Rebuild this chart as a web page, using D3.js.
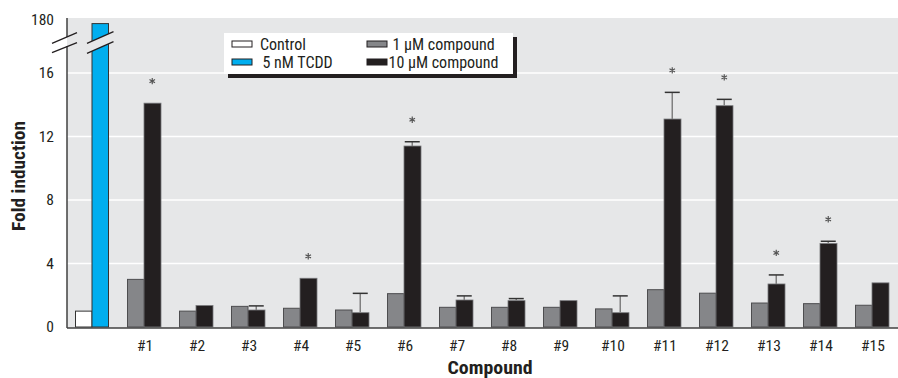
<!DOCTYPE html>
<html>
<head>
<meta charset="utf-8">
<script src="https://cdn.jsdelivr.net/npm/d3@7"></script>
<style>
  body { margin: 0; background: #fff; }
  text { font-family: "Liberation Sans Narrow", "Arial Narrow", "Roboto Condensed", sans-serif; }
</style>
</head>
<body>
<div id="chart"></div>
<script>
// data
var groups = ["", "#1", "#2", "#3", "#4", "#5", "#6", "#7", "#8", "#9", "#10", "#11", "#12", "#13", "#14", "#15"];
var controlValue = 1.0;
var tcddValue = 178;
var lowDose  = [3.0, 1.0, 1.3, 1.18, 1.07, 2.1, 1.24, 1.24, 1.24, 1.14, 2.35, 2.13, 1.51, 1.47, 1.37];
var highDose = [14.1, 1.35, 1.07, 3.07, 0.9, 11.4, 1.7, 1.66, 1.66, 0.9, 13.1, 13.94, 2.71, 5.26, 2.78];
var highErr  = [0, 0, 0.26, 0, 1.22, 0.27, 0.26, 0.13, 0, 1.06, 1.68, 0.4, 0.57, 0.14, 0];
var signif   = [true, false, false, true, false, true, false, false, false, false, true, true, true, true, false];
var yTicks = [0, 4, 8, 12, 16, 180];
var legendItems = [
  {label: "Control", color: "#ffffff"},
  {label: "5 nM TCDD", color: "#00aeef"},
  {label: "1 \u00b5M compound", color: "#858689"},
  {label: "10 \u00b5M compound", color: "#231f20"}
];

var W = 898, H = 378;
var svg = d3.select("#chart")
  .append("svg")
    .attr("width", W)
    .attr("height", H);

var plotL = 67, plotR = 898, plotT = 18, plotB = 328;
var bg = "#e6e7e8";

// x: one band per group
var x = d3.scaleBand()
  .domain(groups)
  .range([66, 898])
  .padding(0);
var barW = 16.5;

// y: broken scale, 16 -> 170 squeezed into the break
var y = d3.scaleLinear()
  .domain([0, 16, 170, 180])
  .range([327, 73, 38, 20]);

// plot background
svg.append("rect")
  .attr("x", plotL).attr("y", plotT)
  .attr("width", plotR - plotL).attr("height", plotB - plotT)
  .attr("fill", bg);

// gridlines
svg.selectAll(".grid")
  .data([4, 8, 12, 16])
  .enter().append("line")
    .attr("x1", plotL).attr("x2", plotR)
    .attr("y1", function(d) { return y(d); })
    .attr("y2", function(d) { return y(d); })
    .attr("stroke", "#ffffff")
    .attr("stroke-width", 1.5);

// Y axis ticks
var yAxis = svg.append("g")
  .attr("transform", "translate(" + plotL + ",0)")
  .call(d3.axisLeft(y).tickValues(yTicks).tickSize(0).tickPadding(13).tickFormat(d3.format("d")));
yAxis.select(".domain").remove();
yAxis.selectAll("text")
  .style("font-size", "15.5px")
  .attr("fill", "#231f20");

// X axis labels
var xAxis = svg.append("g")
  .attr("transform", "translate(1," + plotB + ")")
  .call(d3.axisBottom(x).tickSize(0).tickPadding(12));
xAxis.select(".domain").remove();
xAxis.selectAll("text")
  .style("font-size", "15.5px")
  .attr("fill", "#231f20");

// control + TCDD
var c0 = x("") + x.bandwidth() / 2;
svg.append("rect")
  .attr("x", c0 - barW).attr("y", y(controlValue))
  .attr("width", barW).attr("height", y(0) - y(controlValue))
  .attr("fill", "#ffffff").attr("stroke", "#333").attr("stroke-width", 1);
svg.append("rect")
  .attr("x", c0).attr("y", y(tcddValue))
  .attr("width", barW).attr("height", y(0) - y(tcddValue))
  .attr("fill", "#00aeef").attr("stroke", "#333").attr("stroke-width", 1);

// compound bars
var comp = groups.slice(1).map(function(g, i) {
  return {g: g, low: lowDose[i], high: highDose[i], err: highErr[i], sig: signif[i]};
});

svg.selectAll(".low")
  .data(comp)
  .enter().append("rect")
    .attr("x", function(d) { return x(d.g) + x.bandwidth() / 2 - barW; })
    .attr("y", function(d) { return y(d.low); })
    .attr("width", barW)
    .attr("height", function(d) { return y(0) - y(d.low); })
    .attr("fill", "#858689")
    .attr("stroke", "#4d4d4f").attr("stroke-width", 1);

svg.selectAll(".high")
  .data(comp)
  .enter().append("rect")
    .attr("x", function(d) { return x(d.g) + x.bandwidth() / 2; })
    .attr("y", function(d) { return y(d.high); })
    .attr("width", barW + 0.5)
    .attr("height", function(d) { return y(0) - y(d.high); })
    .attr("fill", "#231f20")
    .attr("stroke", "#77787b").attr("stroke-width", 0.8);

// error bars
var withErr = comp.filter(function(d) { return d.err > 0; });
svg.selectAll(".errv")
  .data(withErr)
  .enter().append("line")
    .attr("x1", function(d) { return x(d.g) + x.bandwidth() / 2 + barW / 2; })
    .attr("x2", function(d) { return x(d.g) + x.bandwidth() / 2 + barW / 2; })
    .attr("y1", function(d) { return y(d.high); })
    .attr("y2", function(d) { return y(d.high + d.err); })
    .attr("stroke", "#808080").attr("stroke-width", 1.5);
svg.selectAll(".errc")
  .data(withErr)
  .enter().append("line")
    .attr("x1", function(d) { return x(d.g) + x.bandwidth() / 2 + barW / 2 - 7.5; })
    .attr("x2", function(d) { return x(d.g) + x.bandwidth() / 2 + barW / 2 + 7.5; })
    .attr("y1", function(d) { return y(d.high + d.err); })
    .attr("y2", function(d) { return y(d.high + d.err); })
    .attr("stroke", "#333").attr("stroke-width", 1.5);

// significance stars
svg.selectAll(".star")
  .data(comp.filter(function(d) { return d.sig; }))
  .enter().append("path")
    .attr("d", d3.symbol(d3.symbolAsterisk).size(28))
    .attr("transform", function(d) {
      return "translate(" + (x(d.g) + x.bandwidth() / 2 + barW / 2) + "," + (y(d.high + d.err) - 22) + ")";
    })
    .attr("stroke", "#555").attr("stroke-width", 1.2).attr("fill", "none");

// axis lines (left axis broken)
svg.append("line")
  .attr("x1", plotL).attr("x2", plotL).attr("y1", plotT).attr("y2", 37)
  .attr("stroke", "#404041").attr("stroke-width", 1.5);
svg.append("line")
  .attr("x1", plotL).attr("x2", plotL).attr("y1", 46).attr("y2", plotB)
  .attr("stroke", "#404041").attr("stroke-width", 1.5);
svg.append("line")
  .attr("x1", plotL).attr("x2", plotR).attr("y1", plotB).attr("y2", plotB)
  .attr("stroke", "#404041").attr("stroke-width", 1.5);

// break on the TCDD bar: gap then slashes
var bx0 = c0 - 5, bx1 = c0 + barW + 5;
var slope = (31.7 - 43.3) / (bx1 - bx0);
function sy(y0, xx) { return y0 + slope * (xx - bx0); }
svg.append("polygon")
  .attr("points", [
    [c0 - 1, sy(43.3, c0 - 1)], [c0 + barW + 1, sy(43.3, c0 + barW + 1)],
    [c0 + barW + 1, sy(53.3, c0 + barW + 1)], [c0 - 1, sy(53.3, c0 - 1)]
  ].join(" "))
  .attr("fill", bg);
[43.3, 53.3].forEach(function(s) {
  svg.append("line")
    .attr("x1", bx0).attr("y1", s).attr("x2", bx1).attr("y2", sy(s, bx1))
    .attr("stroke", "#231f20").attr("stroke-width", 1.3);
});
// break marks on the axis
[[43.3, 32.7], [52.7, 42.7]].forEach(function(s) {
  svg.append("line")
    .attr("x1", 52).attr("y1", s[0]).attr("x2", 77).attr("y2", s[1])
    .attr("stroke", "#231f20").attr("stroke-width", 1.3);
});

// legend
var lg = svg.append("g").attr("transform", "translate(224,33)");
lg.append("rect").attr("x", 4).attr("y", 4).attr("width", 289).attr("height", 41).attr("fill", "#231f20");
lg.append("rect").attr("x", 0).attr("y", 0).attr("width", 289).attr("height", 41).attr("fill", "#ffffff");
var lpos = [[8, 8, 36], [8, 26, 38.5], [143, 8, 168.5], [143, 26, 164.5]];
legendItems.forEach(function(d, i) {
  var p = lpos[i];
  lg.append("rect")
    .attr("x", p[0]).attr("y", p[1]).attr("width", 20).attr("height", 6)
    .attr("fill", d.color).attr("stroke", "#231f20").attr("stroke-width", 1);
  lg.append("text")
    .attr("x", p[2]).attr("y", p[1] + 9)
    .style("font-size", "16px")
    .attr("fill", "#231f20")
    .text(d.label);
});

// axis titles
svg.append("text")
  .attr("transform", "translate(25,176)rotate(-90)")
  .attr("text-anchor", "middle")
  .attr("textLength", 110)
  .attr("lengthAdjust", "spacingAndGlyphs")
  .style("font-size", "17.5px")
  .style("font-weight", "bold")
  .attr("fill", "#231f20")
  .text("Fold induction");
svg.append("text")
  .attr("x", 490).attr("y", 374)
  .attr("text-anchor", "middle")
  .attr("textLength", 85)
  .attr("lengthAdjust", "spacingAndGlyphs")
  .style("font-size", "17.5px")
  .style("font-weight", "bold")
  .attr("fill", "#231f20")
  .text("Compound");
</script>
</body>
</html>
